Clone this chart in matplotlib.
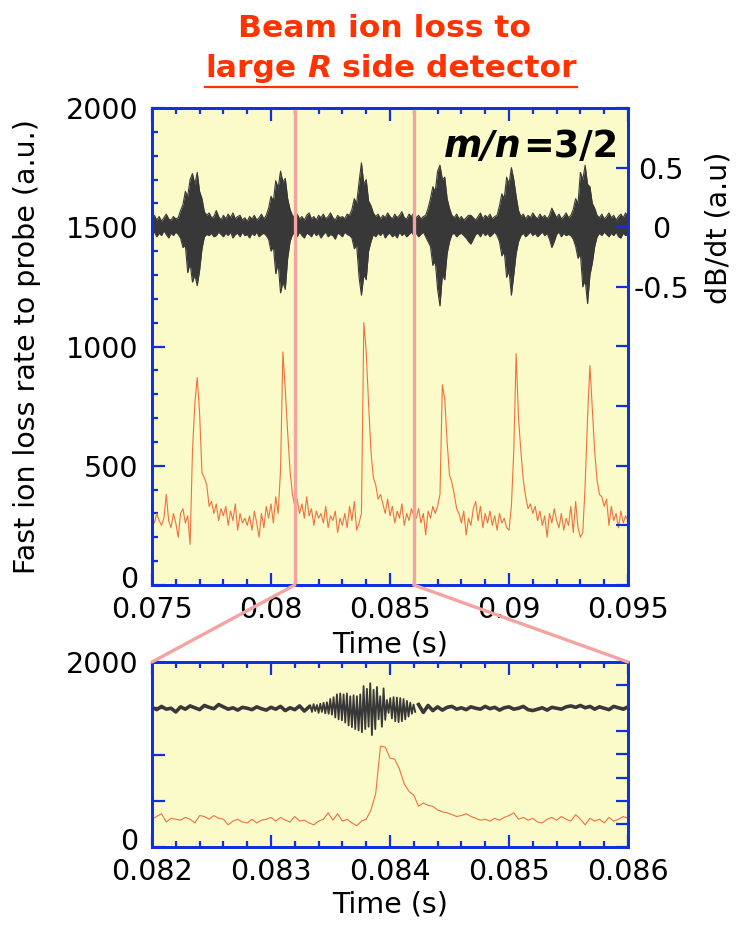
import matplotlib
matplotlib.use('Agg')
import matplotlib.pyplot as plt
import numpy as np
from matplotlib.patches import ConnectionPatch
from matplotlib.lines import Line2D
from matplotlib.ticker import FixedLocator, FixedFormatter, MultipleLocator
from matplotlib.transforms import IdentityTransform, ScaledTranslation

plt.rcParams['font.family'] = ['DejaVu Sans']

# ---------------- data ----------------
# upper panel, 0.075 - 0.095 s, one value every 0.1 ms
main_t0, main_dt = 0.075, 0.0001
loss_main = [
    290, 260, 300, 270, 250, 280, 380, 270, 240, 300,
    260, 200, 300, 320, 260, 290, 170, 560, 760, 870,
    720, 470, 450, 420, 330, 350, 300, 340, 270, 320,
    290, 330, 250, 310, 270, 340, 230, 300, 260, 280,
    250, 290, 230, 310, 260, 200, 300, 240, 330, 280,
    340, 260, 370, 300, 480, 977, 820, 640, 480, 380,
    330, 360, 300, 340, 280, 370, 290, 320, 250, 310,
    280, 300, 260, 330, 240, 290, 270, 310, 220, 280,
    250, 300, 240, 330, 270, 350, 230, 260, 300, 1100,
    980, 760, 560, 450, 420, 360, 380, 340, 300, 360,
    290, 330, 260, 310, 280, 340, 250, 300, 270, 320,
    290, 280, 320, 260, 300, 210, 310, 280, 330, 300,
    330, 380, 840, 780, 600, 460, 430, 380, 320, 300,
    260, 310, 210, 280, 250, 320, 350, 270, 330, 240,
    300, 260, 310, 250, 290, 230, 300, 260, 280, 240,
    230, 330, 560, 970, 700, 560, 440, 370, 320, 340,
    300, 330, 270, 310, 250, 290, 200, 300, 260, 320,
    270, 240, 300, 230, 280, 250, 330, 220, 350, 240,
    200, 220, 420, 700, 920, 740, 560, 440, 380, 370,
    330, 360, 250, 330, 270, 300, 240, 310, 260, 290,
    270]

# dB/dt envelope (upper / lower edge of the dark band)
db_hi_main = [
    0.08, 0.10, 0.06, 0.09, 0.05, 0.08, 0.11, 0.07, 0.06, 0.09,
    0.07, 0.08, 0.14, 0.19, 0.30, 0.26, 0.40, 0.45, 0.36, 0.46,
    0.30, 0.24, 0.13, 0.10, 0.12, 0.08, 0.09, 0.14, 0.09, 0.06,
    0.10, 0.07, 0.11, 0.08, 0.12, 0.07, 0.09, 0.10, 0.06, 0.08,
    0.05, 0.09, 0.07, 0.10, 0.06, 0.08, 0.11, 0.07, 0.10, 0.16,
    0.26, 0.22, 0.39, 0.33, 0.47, 0.38, 0.41, 0.24, 0.15, 0.10,
    0.08, 0.11, 0.07, 0.09, 0.06, 0.10, 0.12, 0.07, 0.09, 0.06,
    0.10, 0.08, 0.11, 0.07, 0.09, 0.12, 0.08, 0.06, 0.10, 0.08,
    0.09, 0.07, 0.11, 0.10, 0.15, 0.24, 0.20, 0.38, 0.54, 0.36,
    0.40, 0.22, 0.18, 0.12, 0.09, 0.11, 0.07, 0.10, 0.08, 0.12,
    0.09, 0.07, 0.11, 0.08, 0.10, 0.13, 0.08, 0.07, 0.11, 0.09,
    0.12, 0.08, 0.10, 0.07, 0.09, 0.10, 0.16, 0.24, 0.34, 0.30,
    0.47, 0.52, 0.40, 0.42, 0.24, 0.16, 0.10, 0.08, 0.11, 0.07,
    0.09, 0.06, 0.08, 0.10, 0.10, 0.08, 0.06, 0.09, 0.12, 0.07,
    0.10, 0.08, 0.11, 0.07, 0.09, 0.10, 0.18, 0.28, 0.24, 0.42,
    0.36, 0.50, 0.40, 0.26, 0.14, 0.09, 0.11, 0.07, 0.10, 0.08,
    0.12, 0.09, 0.07, 0.11, 0.08, 0.10, 0.07, 0.10, 0.16, 0.12,
    0.08, 0.11, 0.07, 0.09, 0.12, 0.08, 0.10, 0.15, 0.24, 0.20,
    0.46, 0.40, 0.52, 0.36, 0.34, 0.20, 0.16, 0.10, 0.08, 0.11,
    0.07, 0.09, 0.12, 0.08, 0.10, 0.06, 0.09, 0.11, 0.08, 0.12,
    0.09]
db_lo_main = [
    -0.06, -0.04, -0.08, -0.05, -0.07, -0.03, -0.06, -0.09, -0.05, -0.07,
    -0.04, -0.06, -0.09, -0.17, -0.15, -0.38, -0.30, -0.46, -0.40, -0.49,
    -0.36, -0.18, -0.08, -0.06, -0.07, -0.05, -0.08, -0.07, -0.04, -0.06,
    -0.08, -0.05, -0.07, -0.04, -0.09, -0.06, -0.05, -0.08, -0.04, -0.07,
    -0.06, -0.09, -0.05, -0.07, -0.04, -0.08, -0.06, -0.05, -0.07, -0.10,
    -0.20, -0.16, -0.39, -0.30, -0.55, -0.46, -0.52, -0.26, -0.12, -0.06,
    -0.05, -0.08, -0.04, -0.07, -0.09, -0.05, -0.06, -0.08, -0.04, -0.07,
    -0.05, -0.09, -0.06, -0.04, -0.08, -0.06, -0.07, -0.10, -0.05, -0.06,
    -0.08, -0.04, -0.06, -0.07, -0.09, -0.18, -0.15, -0.42, -0.57, -0.40,
    -0.44, -0.20, -0.12, -0.06, -0.08, -0.05, -0.07, -0.04, -0.09, -0.06,
    -0.05, -0.08, -0.06, -0.09, -0.04, -0.07, -0.05, -0.08, -0.06, -0.04,
    -0.07, -0.05, -0.08, -0.06, -0.04, -0.08, -0.12, -0.16, -0.32, -0.28,
    -0.52, -0.66, -0.40, -0.44, -0.22, -0.12, -0.06, -0.05, -0.08, -0.06,
    -0.05, -0.07, -0.09, -0.12, -0.14, -0.10, -0.06, -0.05, -0.08, -0.04,
    -0.07, -0.05, -0.08, -0.06, -0.04, -0.07, -0.12, -0.24, -0.20, -0.42,
    -0.36, -0.57, -0.40, -0.22, -0.12, -0.07, -0.05, -0.08, -0.06, -0.04,
    -0.07, -0.05, -0.08, -0.06, -0.04, -0.07, -0.05, -0.10, -0.17, -0.12,
    -0.06, -0.04, -0.08, -0.05, -0.07, -0.06, -0.07, -0.10, -0.16, -0.26,
    -0.22, -0.50, -0.44, -0.64, -0.40, -0.30, -0.16, -0.08, -0.05, -0.07,
    -0.04, -0.06, -0.08, -0.05, -0.07, -0.04, -0.08, -0.09, -0.05, -0.07,
    -0.06]

# lower panel, 0.082 - 0.086 s
zoom_t0, zoom_dt = 0.082, 0.00004
loss_zoom = [
    300, 330, 360, 270, 310, 300, 290, 320, 300, 260,
    340, 330, 300, 340, 310, 300, 240, 280, 300, 270,
    260, 300, 260, 290, 300, 320, 280, 320, 290, 270,
    330, 280, 290, 260, 240, 280, 300, 370, 290, 360,
    280, 300, 260, 230, 280, 300, 400, 580, 1090, 1080,
    960, 950, 840, 680, 600, 560, 440, 476, 450, 440,
    400, 380, 370, 350, 330, 340, 360, 330, 310, 290,
    300, 280, 310, 290, 320, 340, 370, 300, 320, 290,
    310, 270, 260, 300, 320, 290, 330, 300, 280, 350,
    300, 240, 310, 280, 300, 260, 320, 280, 300, 330,
    310]

# dB/dt in the lower panel: quiet part, burst (finely sampled), quiet part
dbz_a_t0, dbz_a_dt = 0.082, 0.00004
db_zoom_a = [0.02, -0.03, 0.04, -0.02, 0.00, -0.08, 0.03, -0.02, 0.05, 0.01,
             -0.03, 0.06, 0.02, -0.01, 0.08, 0.03, -0.02, 0.01, -0.04, 0.02,
             0.00, -0.03, 0.03, -0.01, -0.04, 0.02, -0.02, 0.04, -0.05, 0.01,
             -0.03, 0.05, -0.06, 0.03]
dbz_b_t0, dbz_b_dt = 0.08333, 0.000014
db_zoom_b = [0.06, -0.08, 0.09, -0.06, 0.07, -0.10, 0.10, -0.08, 0.12, -0.11,
             0.13, -0.12, 0.20, -0.14, 0.24, -0.20, 0.30, -0.24, 0.32, -0.26,
             0.30, -0.31, 0.32, -0.37, 0.26, -0.41, 0.28, -0.45, 0.26, -0.48,
             0.30, -0.52, 0.48, -0.45, 0.42, -0.40, 0.54, -0.58, 0.40, -0.45,
             0.46, -0.24, 0.26, -0.40, 0.43, -0.25, 0.18, -0.10, 0.22, -0.22,
             0.24, -0.28, 0.23, -0.30, 0.22, -0.28, 0.20, -0.24, 0.16, -0.18,
             0.12, -0.12, 0.08, -0.08]
dbz_c_t0, dbz_c_dt = 0.08424, 0.00004
db_zoom_c = [0.08, -0.09, 0.06, -0.05, 0.03, -0.04, 0.02, 0.04, -0.02, 0.01,
             -0.03, 0.03, 0.00, -0.02, 0.04, -0.01, 0.02, -0.04, 0.01, 0.03,
             -0.02, 0.00, 0.04, -0.03, -0.05, -0.02, 0.01, -0.04, 0.02, 0.00,
             -0.02, 0.03, 0.05, 0.02, 0.06, 0.01, 0.04, -0.02, 0.03, 0.00,
             -0.03, 0.04, 0.01, -0.02, 0.03]

main_xticks = [0.075, 0.08, 0.085, 0.09, 0.095]
main_xticklabels = ['0.075', '0.08', '0.085', '0.09', '0.095']
zoom_xticks = [0.082, 0.083, 0.084, 0.085, 0.086]
zoom_xticklabels = ['0.082', '0.083', '0.084', '0.085', '0.086']
loss_ticks = [0, 500, 1000, 1500, 2000]
main_loss_labels = ['0', '500', '1000', '1500', '2000']
zoom_loss_labels = ['0', '', '', '', '2000']
db_ticks = [-3, -2.5, -2, -1.5, -1, -0.5, 0, 0.5, 1]
db_labels = ['', '', '', '', '', '-0.5', '0', '0.5', '']
zoom_marks = [0.081, 0.086]   # where the pink lines leave the upper panel

# ---------------- styling ----------------
BLUE = '#1030e0'
BG = '#fbfbc9'
ORANGE = '#f07040'
DARK = '#383838'
PINK = '#f4a3a0'
RED = '#ff3300'
FS = 20.5

W, H = 740.0, 925.0
fig = plt.figure(figsize=(W / 100, H / 100), dpi=100)
ax = fig.add_axes([152 / W, 1 - 585 / H, 476 / W, 477 / H])
axz = fig.add_axes([152 / W, 1 - 847 / H, 476 / W, 185 / H])


def frame(a):
    for s in a.spines.values():
        s.set_color(BLUE)
        s.set_linewidth(2.0)
    a.tick_params(which='both', direction='in', color=BLUE, width=1.6,
                  labelsize=FS)
    a.tick_params(which='major', length=9)
    a.tick_params(which='minor', length=4.5)


for a in (ax, axz):
    a.set_facecolor(BG)
    frame(a)

# upper panel
t_main = main_t0 + main_dt * np.arange(len(loss_main))
ax.plot(t_main, loss_main, color=ORANGE, lw=0.8)
ax.set_xlim(0.075, 0.095)
ax.set_ylim(0, 2000)
ax.xaxis.set_major_locator(FixedLocator(main_xticks))
ax.xaxis.set_major_formatter(FixedFormatter(main_xticklabels))
ax.xaxis.set_minor_locator(MultipleLocator(0.001))
ax.yaxis.set_major_locator(FixedLocator(loss_ticks))
ax.yaxis.set_major_formatter(FixedFormatter(main_loss_labels))
ax.yaxis.set_minor_locator(MultipleLocator(100))
ax.tick_params(axis='x', which='both', top=True, pad=8)
ax.tick_params(axis='y', which='both', right=False, pad=10)
ax.set_xlabel('Time (s)', fontsize=FS, va='baseline')
ax.xaxis.set_label_coords(0.5, -(653 - 585) / 477)

axr = ax.twinx()
frame(axr)
t_db = main_t0 + main_dt * np.arange(len(db_hi_main))
axr.fill_between(t_db, db_lo_main, db_hi_main, color=DARK, lw=0)
axr.plot(t_db, db_hi_main, color=DARK, lw=0.8)
axr.plot(t_db, db_lo_main, color=DARK, lw=0.8)
axr.set_ylim(-3, 1)
axr.yaxis.set_major_locator(FixedLocator(db_ticks))
axr.yaxis.set_major_formatter(FixedFormatter(db_labels))
axr.tick_params(axis='y', pad=24)
for x in zoom_marks:
    axr.axvline(x, color=PINK, lw=2.4)

# axis titles placed in pixels, as in the original layout
fig.text(27, H - 347, 'Fast ion loss rate to probe (a.u.)', fontsize=FS,
         rotation=90, ha='center', va='center', transform=IdentityTransform())
fig.text(718, H - 228, 'dB/dt (a.u)', fontsize=FS, rotation=90,
         ha='center', va='center', transform=IdentityTransform())

# lower panel
t_zoom = zoom_t0 + zoom_dt * np.arange(len(loss_zoom))
axz.plot(t_zoom, loss_zoom, color=ORANGE, lw=0.8)
axz.set_xlim(0.082, 0.086)
axz.set_ylim(0, 2000)
axz.xaxis.set_major_locator(FixedLocator(zoom_xticks))
axz.xaxis.set_major_formatter(FixedFormatter(zoom_xticklabels))
axz.xaxis.set_minor_locator(MultipleLocator(0.0002))
axz.yaxis.set_major_locator(FixedLocator(loss_ticks))
axz.yaxis.set_major_formatter(FixedFormatter(zoom_loss_labels))
axz.tick_params(axis='x', which='both', top=True, pad=8)
axz.tick_params(axis='y', which='both', right=False, pad=10)
axz.set_xlabel('Time (s)', fontsize=FS, va='baseline')
axz.xaxis.set_label_coords(0.5, -(913 - 847) / 185)

axzr = axz.twinx()
frame(axzr)
for t0, dt, vals, lw in [(dbz_a_t0, dbz_a_dt, db_zoom_a, 2.6),
                         (dbz_b_t0, dbz_b_dt, db_zoom_b, 1.3),
                         (dbz_c_t0, dbz_c_dt, db_zoom_c, 2.6)]:
    tt = t0 + dt * np.arange(len(vals))
    axzr.plot(tt, vals, color=DARK, lw=lw)
axzr.set_ylim(-3, 1)
axzr.yaxis.set_major_locator(MultipleLocator(0.5))
axzr.tick_params(axis='y', labelright=False)

# pink connectors from the upper panel to the lower one
for xa, xb in [(zoom_marks[0], 0.082), (zoom_marks[1], 0.086)]:
    fig.add_artist(ConnectionPatch(xyA=(xa, 0), coordsA=ax.transData,
                                   xyB=(xb, 2000), coordsB=axz.transData,
                                   color=PINK, lw=2.4))

plt.setp(axr.get_yticklabels(), ha='center')
# the "0" labels sit a little above their tick, clear of the time labels
lift = ScaledTranslation(0, 8 / 100, fig.dpi_scale_trans)
for a in (ax, axz):
    zero = a.get_yticklabels()[0]
    zero.set_transform(zero.get_transform() + lift)

# ---------------- texts made of pieces (mixed italic) ----------------
renderer = fig.canvas.get_renderer()


def put_pieces(pieces, x, y, ha, size, color):
    arts = [fig.text(0, y, s, transform=IdentityTransform(), fontsize=size,
                     fontweight='bold', style=st, color=color, va='baseline')
            for s, st, _ in pieces]
    widths = [a.get_window_extent(renderer).width for a in arts]
    gaps = [g * size * 100 / 72 for _, _, g in pieces]
    total = sum(widths) + sum(gaps)
    x0 = x - total / 2 if ha == 'center' else x - total
    left = x0
    for a, w, g in zip(arts, widths, gaps):
        x0 += g
        a.set_x(x0)
        x0 += w
    return left, x0


put_pieces([('Beam ion loss to', 'normal', 0)], 385, H - 37, 'center', 22.6, RED)
l, r = put_pieces([('large', 'normal', 0), ('R', 'italic', 0.348),
                   ('side detector', 'normal', 0.348)],
                  391, H - 77, 'center', 22.6, RED)
fig.add_artist(Line2D([l, r], [H - 87, H - 87], transform=IdentityTransform(),
                      color=RED, lw=1.6))
put_pieces([('m/n', 'italic', 0), ('=3/2', 'normal', 0.02)],
           618, H - 157, 'right', 26.5, 'black')

fig.savefig('out.png', dpi=100)
